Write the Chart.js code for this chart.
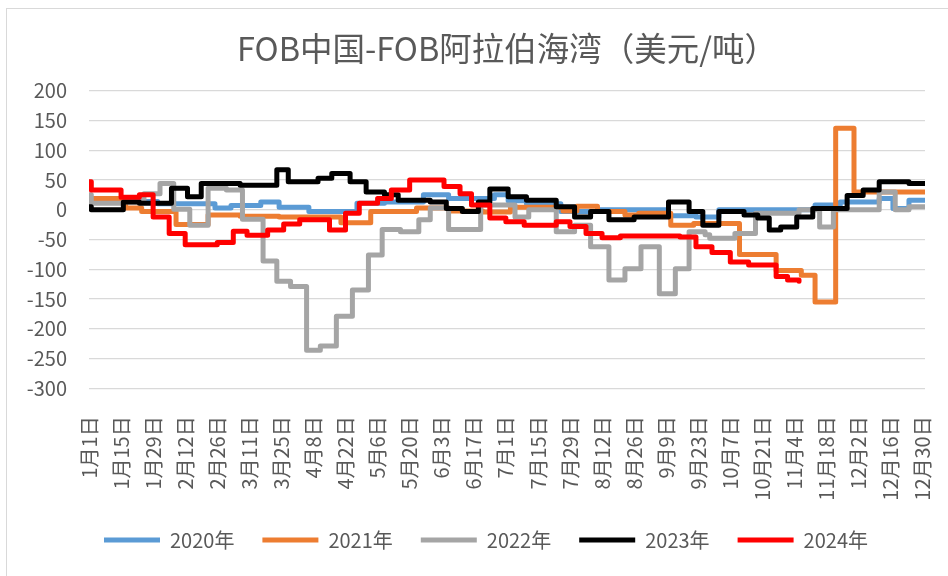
<!DOCTYPE html>
<html>
<head>
<meta charset="utf-8">
<script src="https://cdn.jsdelivr.net/npm/chart.js@4.4.1/dist/chart.umd.min.js"></script>
<style>
  body { margin: 0; background: #fff; }
  #frame { position: absolute; left: 6px; top: 8px; width: 942px; height: 568px;
           border-left: 1px solid #d9d9d9; border-top: 1px solid #d9d9d9; pointer-events: none; }
</style>
</head>
<body>
<canvas id="spreadChart" width="948" height="576"></canvas>
<div id="frame"></div>
<script>
// 横轴刻度（每14天一个）
const tickLabels = ['1月1日', '1月15日', '1月29日', '2月12日', '2月26日', '3月11日', '3月25日',
    '4月8日', '4月22日', '5月6日', '5月20日', '6月3日', '6月17日', '7月1日', '7月15日', '7月29日',
    '8月12日', '8月26日', '9月9日', '9月23日', '10月7日', '10月21日', '11月4日', '11月18日',
    '12月2日', '12月16日', '12月30日'];
const tickDays = [0, 14, 28, 42, 56, 70, 84, 98, 112, 126, 140, 154, 168, 182, 196, 210, 224,
    238, 252, 266, 280, 294, 308, 322, 336, 350, 364];

// 各年价差：变动日（一年中的第几天）和对应数值
const days2020 = [0, 30, 55, 62, 75, 83, 96, 117, 129, 146, 157, 177, 183, 191, 206, 222, 253, 265, 275, 317, 328, 345, 351, 358, 365];
const vals2020 = [14, 10, 3, 7, 13, 4, -3, 11, 13, 25, 19, 25, 15, 10, -3, 0, -10, -12, 0, 8, 13, 19, 2, 16, 16];

const days2021 = [0, 16, 23, 38, 52, 66, 83, 110, 123, 143, 157, 172, 184, 207, 213, 222, 234, 240, 254, 264, 284, 300, 311, 317, 326, 334, 365];
const vals2021 = [19, 3, -3, -25, -9, -11, -12, -22, -3, 3, -2, -4, 4, -2, 6, -3, -9, -6, -26, -23, -75, -102, -110, -155, 137, 30, 30];

const days2022 = [0, 1, 15, 24, 31, 37, 44, 52, 60, 67, 76, 82, 88, 95, 101, 108, 115, 122, 128, 136, 144, 149, 157, 171, 186, 192, 204, 212, 219, 227, 234, 241, 249, 256, 262, 269, 271, 282, 291, 310, 319, 325, 345, 352, 358, 365];
const vals2022 = [25, 11, 13, 27, 44, 1, -26, 36, 33, -16, -86, -120, -129, -236, -229, -179, -135, -76, -33, -37, -17, 3, -33, 8, -12, 0, -37, -26, -62, -118, -99, -62, -141, -99, -37, -42, -48, -40, -6, 0, -29, 0, 30, 0, 5, 5];

const days2023 = [0, 1, 15, 22, 36, 43, 49, 66, 82, 87, 100, 106, 114, 121, 129, 135, 149, 156, 163, 170, 175, 183, 191, 204, 212, 219, 227, 238, 253, 262, 268, 275, 286, 292, 297, 302, 309, 316, 331, 338, 345, 358, 365];
const vals2023 = [5, 0, 13, 11, 36, 22, 44, 41, 67, 47, 53, 61, 47, 30, 25, 16, 13, 2, -3, 13, 35, 22, 16, 5, -12, -3, -17, -12, 13, -3, -26, -3, -9, -14, -34, -29, -12, 2, 24, 33, 47, 44, 44];

const days2024 = [0, 1, 14, 22, 28, 35, 42, 56, 63, 69, 78, 85, 92, 105, 112, 118, 126, 132, 140, 155, 162, 167, 175, 182, 190, 204, 210, 217, 224, 232, 258, 265, 272, 280, 288, 300, 305, 310];
const vals2024 = [47, 33, 21, 25, -12, -40, -59, -55, -36, -43, -34, -24, -17, -34, -6, 11, 19, 33, 50, 39, 27, 8, -14, -20, -26, -20, -28, -40, -47, -44, -46, -62, -72, -88, -93, -112, -118, -120];

const series = [
    { label: '2020年', days: days2020, vals: vals2020, color: '#5B9BD5' },
    { label: '2021年', days: days2021, vals: vals2021, color: '#ED7D31' },
    { label: '2022年', days: days2022, vals: vals2022, color: '#A5A5A5' },
    { label: '2023年', days: days2023, vals: vals2023, color: '#000000' },
    { label: '2024年', days: days2024, vals: vals2024, color: '#FF0000' }
];

const fontFamily = '"Noto Sans CJK SC", "Noto Sans", sans-serif';
const textColor = '#595959';

const ctx = document.getElementById('spreadChart').getContext('2d');
const spreadChart = new Chart(ctx, {
    type: 'line',
    data: {
        datasets: series.map((s, i) => ({
            label: s.label,
            data: s.days.map((d, j) => ({ x: d, y: s.vals[j] })),
            borderColor: s.color,
            backgroundColor: s.color,
            borderWidth: 5,
            borderJoinStyle: 'round',
            borderCapStyle: 'round',
            stepped: true,
            pointRadius: 0,
            fill: false,
            order: series.length - i // 后面的年份画在上层
        }))
    },
    options: {
        responsive: false,
        animation: false,
        devicePixelRatio: 1,
        layout: { padding: { left: 24, right: 0, top: 2, bottom: 16 } },
        scales: {
            x: {
                type: 'linear',
                min: 0,
                max: 365,
                grid: { display: false },
                border: { display: false },
                afterBuildTicks: (scale) => {
                    scale.ticks = tickDays.map(d => ({ value: d }));
                },
                afterFit: (scale) => {
                    scale.height = 113.7;
                    scale.paddingLeft = 0;
                    scale.paddingRight = 23; // 右侧留白
                },
                ticks: {
                    autoSkip: false,
                    minRotation: 90,
                    maxRotation: 90,
                    padding: 20,
                    color: textColor,
                    font: { family: fontFamily, size: 20 },
                    callback: (value, index) => tickLabels[index]
                }
            },
            y: {
                min: -300,
                max: 200,
                grid: { color: '#D9D9D9', lineWidth: 1.3, drawTicks: false },
                border: { display: false },
                afterFit: (scale) => { scale.width = 65; },
                ticks: {
                    stepSize: 50,
                    padding: 22,
                    color: textColor,
                    font: { family: fontFamily, size: 20 }
                }
            }
        },
        plugins: {
            title: {
                display: true,
                text: 'FOB中国-FOB阿拉伯海湾（美元/吨）',
                color: textColor,
                fullSize: false,
                font: { family: fontFamily, size: 32.5, weight: 'normal' },
                padding: { top: 27, bottom: 22.7 }
            },
            legend: {
                position: 'bottom',
                labels: {
                    usePointStyle: true,
                    pointStyle: 'line',
                    pointStyleWidth: 56,
                    padding: 28,
                    color: textColor,
                    font: { family: fontFamily, size: 20 },
                    sort: (a, b) => a.datasetIndex - b.datasetIndex
                }
            },
            tooltip: { enabled: false }
        }
    }
});
</script>
</body>
</html>
